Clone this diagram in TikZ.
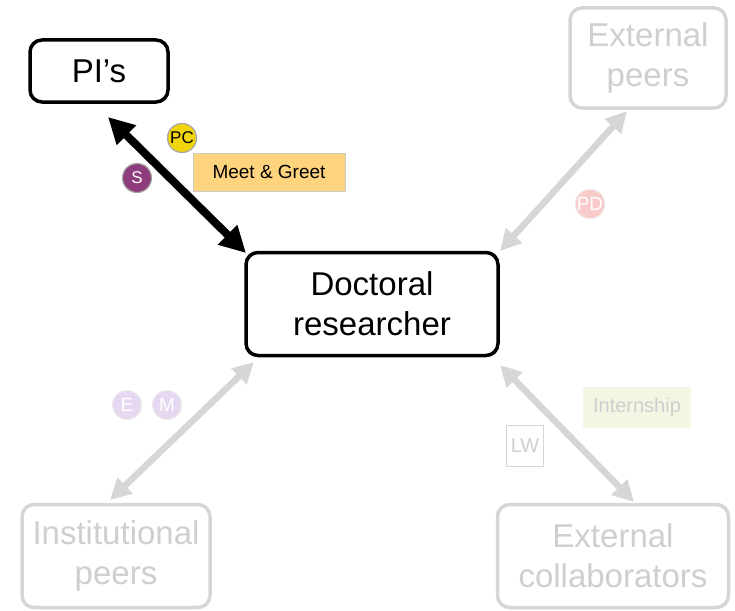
\documentclass[tikz,border=0pt]{standalone}
\usepackage{fontspec}
\setmainfont{Liberation Sans}
\usetikzlibrary{arrows.meta}
\definecolor{lgray}{HTML}{D6D6D6}
\definecolor{tgray}{HTML}{CFCFCF}
\definecolor{pcyel}{HTML}{F2D40C}
\definecolor{spurp}{HTML}{8E3C7C}
\definecolor{mgorange}{HTML}{FFD47E}
\definecolor{pdpink}{HTML}{F8CACA}
\definecolor{emlav}{HTML}{E6D8F0}
\definecolor{intgreen}{HTML}{F1F7E2}
\begin{document}
\begin{tikzpicture}[x=1pt,y=-1pt,
  mainbox/.style={draw=black,line width=3.5pt,rounded corners=12pt,fill=white,align=center,font=\fontsize{33}{40}\selectfont},
  fadebox/.style={draw=lgray,line width=3.5pt,rounded corners=12pt,fill=white,align=center,text=tgray,font=\fontsize{33}{40}\selectfont},
  badge/.style={circle,minimum size=29pt,inner sep=0pt,font=\fontsize{17}{19}\selectfont},
  darrow/.style={line width=8pt,{Triangle[length=26pt,width=26pt]}-{Triangle[length=26pt,width=26pt]}},
  garrow/.style={draw=lgray,line width=6.5pt,{Triangle[length=21pt,width=21pt]}-{Triangle[length=21pt,width=21pt]}},
  tag/.style={font=\fontsize{19}{21}\selectfont,inner sep=0pt}
]
\useasboundingbox (0,0) rectangle (735,610);
% boxes
\node[mainbox,minimum width=138pt,minimum height=62pt,text width=130pt] (pi) at (99,71) {PI’s};
\node[mainbox,minimum width=252pt,minimum height=103pt] (dr) at (372,304) {Doctoral\\researcher};
\node[fadebox,minimum width=156pt,minimum height=100pt] (ep) at (648,58) {External\\peers};
\node[fadebox,minimum width=188pt,minimum height=103pt,inner xsep=0pt] (ip) at (116,556) {Institutional\\peers};
\node[fadebox,minimum width=231pt,minimum height=103pt,inner xsep=0pt] (ec) at (613,556) {External\\collaborators};
% anchors for arrows
\coordinate (a1) at (108,117);
\coordinate (a2) at (246,253);
\coordinate (b1) at (627,111);
\coordinate (b2) at (500,251);
\coordinate (c1) at (110,500);
\coordinate (c2) at (254,362);
\coordinate (d1) at (634,502);
\coordinate (d2) at (500,365);
\draw[darrow] (a1) -- (a2);
\draw[garrow] (b1) -- (b2);
\draw[garrow] (c1) -- (c2);
\draw[garrow] (d1) -- (d2);
% badges
\node[badge,fill=pcyel,draw=gray!70,line width=1.2pt] (pc) at (182,138) {PC};
\node[badge,fill=spurp,draw=gray!70,line width=1.2pt,text=white] (s) at (137,178) {S};
\node[tag,fill=mgorange,draw=gray!40,line width=0.6pt,minimum width=152pt,minimum height=38pt] (mg) at (269,172) {Meet \& Greet};
\node[badge,fill=pdpink,draw=gray!15,line width=1pt,text=white,font=\fontsize{19}{21}\selectfont] (pd) at (590,204) {PD};
\node[badge,fill=emlav,draw=gray!15,line width=1pt,text=white,font=\fontsize{19}{21}\selectfont] (e) at (127,405) {E};
\node[badge,fill=emlav,draw=gray!15,line width=1pt,text=white,font=\fontsize{19}{21}\selectfont] (m) at (167,405) {M};
\node[tag,fill=intgreen,text=tgray,minimum width=108pt,minimum height=41pt,font=\fontsize{20}{22}\selectfont] (int) at (637,407) {Internship};
\node[tag,draw=lgray,line width=1.5pt,fill=white,text=tgray,minimum width=37pt,minimum height=41pt,font=\fontsize{20}{22}\selectfont] (lw) at (525,446) {LW};
\end{tikzpicture}
\end{document}
